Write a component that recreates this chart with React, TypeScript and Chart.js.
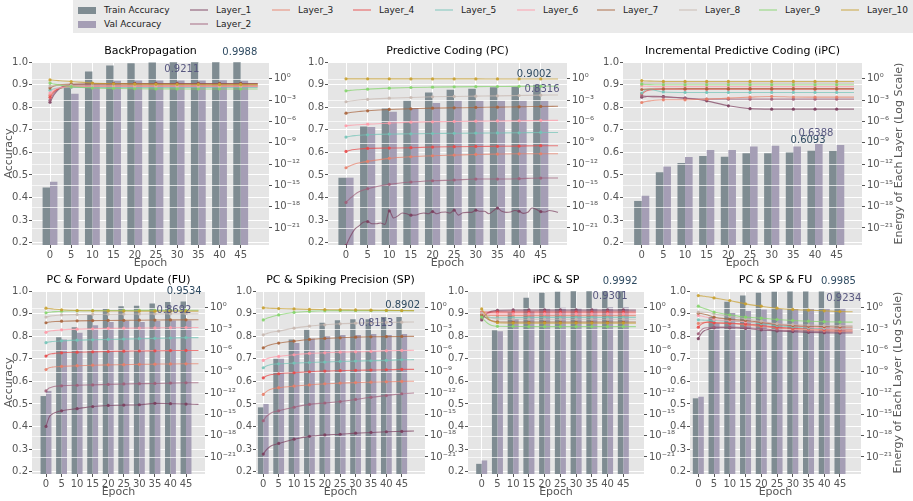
import React, { useEffect, useRef } from "react";
import { Chart, registerables } from "chart.js";

Chart.register(...registerables);

const FONT = "'DejaVu Sans', 'Liberation Sans', sans-serif";
Chart.defaults.font.family = FONT;

// ---------------- data ----------------
const BAR_EPOCHS = [0, 5, 10, 15, 20, 25, 30, 35, 40, 45];
const LINE_EPOCHS = [0, 1, 2, 3, 5, 10, 15, 20, 25, 30, 35, 40, 45, 49];
const PC_L1_EPOCHS = [
  0, 1, 2, 3, 4, 5, 6, 7, 8, 9, 10, 11, 12, 13, 14, 15, 16, 17, 18, 19, 20, 21, 22, 23, 24,
  25, 26, 27, 28, 29, 30, 31, 32, 33, 34, 35, 36, 37, 38, 39, 40, 41, 42, 43, 44, 45, 46, 47, 48, 49,
];
const ACC_TICKS = [0.2, 0.3, 0.4, 0.5, 0.6, 0.7, 0.8, 0.9, 1.0];
const LOG_TICK_EXPONENTS = [0, -3, -6, -9, -12, -15, -18, -21];
const LAYER_NAMES = ["Layer_1", "Layer_2", "Layer_3", "Layer_4", "Layer_5", "Layer_6", "Layer_7", "Layer_8", "Layer_9", "Layer_10"];
const TITLES = [
  "BackPropagation",
  "Predictive Coding (PC)",
  "Incremental Predictive Coding (iPC)",
  "PC & Forward Update (FU)",
  "PC & Spiking Precision (SP)",
  "iPC & SP",
  "PC & SP & FU",
];

// accuracy bars (epochs 0,5,...,45)
const bpTrain = [0.445, 0.892, 0.958, 0.985, 0.995, 0.998, 0.999, 0.999, 0.999, 0.999];
const bpVal = [0.47, 0.859, 0.897, 0.917, 0.918, 0.918, 0.918, 0.918, 0.919, 0.917];
const pcTrain = [0.488, 0.714, 0.794, 0.83, 0.865, 0.877, 0.882, 0.888, 0.889, 0.899];
const pcVal = [0.488, 0.712, 0.78, 0.796, 0.818, 0.828, 0.828, 0.829, 0.829, 0.829];
const ipcTrain = [0.385, 0.512, 0.553, 0.584, 0.581, 0.596, 0.596, 0.599, 0.607, 0.606];
const ipcVal = [0.408, 0.537, 0.579, 0.611, 0.611, 0.626, 0.629, 0.626, 0.638, 0.633];
const fuTrain = [0.535, 0.795, 0.84, 0.895, 0.921, 0.933, 0.935, 0.945, 0.951, 0.953];
const fuVal = [0.558, 0.785, 0.815, 0.848, 0.863, 0.867, 0.863, 0.867, 0.869, 0.869];
const spTrain = [0.485, 0.7, 0.785, 0.83, 0.86, 0.87, 0.875, 0.875, 0.885, 0.885];
const spVal = [0.5, 0.7, 0.77, 0.79, 0.8, 0.805, 0.805, 0.81, 0.805, 0.81];
const ipcspTrain = [0.235, 0.826, 0.905, 0.97, 0.992, 0.997, 0.999, 0.999, 0.999, 0.999];
const ipcspVal = [0.25, 0.822, 0.876, 0.91, 0.922, 0.926, 0.925, 0.925, 0.928, 0.928];
const allTrain = [0.525, 0.885, 0.952, 0.98, 0.992, 0.997, 0.998, 0.998, 0.998, 0.998];
const allVal = [0.532, 0.86, 0.903, 0.912, 0.918, 0.92, 0.92, 0.921, 0.922, 0.922];

// best accuracy annotations: [epoch, value]
const bpBestTrain = [44.8, 0.9988];
const bpBestVal = [31.1, 0.9211];
const pcBestTrain = [43.5, 0.9002];
const pcBestVal = [45.3, 0.8316];
const ipcBestTrain = [38.4, 0.6093];
const ipcBestVal = [40.2, 0.6388];
const fuBestTrain = [44.4, 0.9534];
const fuBestVal = [41.1, 0.8692];
const spBestTrain = [45.3, 0.8902];
const spBestVal = [36.6, 0.8113];
const ipcspBestTrain = [44.0, 0.9992];
const ipcspBestVal = [40.8, 0.9301];
const allBestTrain = [44.5, 0.9985];
const allBestVal = [46.2, 0.9234];

// layer energies, log10 values at LINE_EPOCHS (Layer_1 ... Layer_10)
const bpLayers = [
  [-3.3, -2.2, -1.5, -1.1, -0.85, -0.7, -0.66, -0.65, -0.65, -0.65, -0.65, -0.65, -0.65, -0.65],
  [-3.0, -2.0, -1.4, -1.1, -0.9, -0.8, -0.76, -0.75, -0.75, -0.75, -0.75, -0.75, -0.75, -0.75],
  [-2.3, -1.7, -1.4, -1.25, -1.15, -1.1, -1.1, -1.1, -1.1, -1.1, -1.1, -1.1, -1.1, -1.1],
  [-2.6, -1.8, -1.4, -1.2, -1.05, -0.97, -0.95, -0.95, -0.95, -0.95, -0.95, -0.95, -0.95, -0.95],
  [-1.6, -1.4, -1.3, -1.25, -1.2, -1.2, -1.2, -1.2, -1.2, -1.2, -1.2, -1.2, -1.2, -1.2],
  [-2.0, -1.5, -1.3, -1.2, -1.1, -1.05, -1.05, -1.05, -1.05, -1.05, -1.05, -1.05, -1.05, -1.05],
  [-1.3, -1.0, -0.85, -0.8, -0.75, -0.72, -0.7, -0.7, -0.7, -0.7, -0.7, -0.7, -0.7, -0.7],
  [-1.0, -0.95, -0.92, -0.9, -0.9, -0.9, -0.9, -0.9, -0.9, -0.9, -0.9, -0.9, -0.9, -0.9],
  [-0.6, -0.75, -0.85, -0.95, -1.1, -1.3, -1.35, -1.4, -1.42, -1.42, -1.43, -1.43, -1.43, -1.43],
  [-0.15, -0.2, -0.25, -0.3, -0.38, -0.6, -0.7, -0.75, -0.78, -0.8, -0.8, -0.82, -0.82, -0.82],
];
// PC Layer_1 is noisy: one value per epoch (PC_L1_EPOCHS)
const pcLayer1 = [
  -23.5, -22.2, -21.2, -20.7, -20.2, -20.1, -20.4, -20.4, -20.3, -20.5, -18.6, -19.6, -19.3, -18.9, -19.0,
  -19.2, -19.2, -19.0, -18.9, -19.0, -18.7, -19.0, -18.8, -18.75, -18.9, -18.5, -19.2, -18.85, -18.8, -18.8,
  -18.5, -18.65, -18.65, -19.0, -18.6, -18.2, -18.65, -18.8, -18.75, -18.55, -18.65, -18.95, -18.8, -18.2, -18.4,
  -18.7, -18.75, -18.55, -18.65, -18.8,
];
const pcLayers = [
  pcLayer1,
  [-17.4, -16.8, -16.3, -15.9, -15.47, -14.86, -14.53, -14.35, -14.25, -14.11, -14.11, -14.06, -13.97, -13.97],
  [-12.52, -12.25, -12.0, -11.85, -11.63, -11.2, -10.97, -10.83, -10.74, -10.65, -10.6, -10.56, -10.55, -10.55],
  [-10.22, -10.05, -9.95, -9.88, -9.8, -9.75, -9.7, -9.61, -9.56, -9.52, -9.5, -9.47, -9.42, -9.42],
  [-8.2, -8.08, -8.0, -7.95, -7.88, -7.78, -7.74, -7.7, -7.67, -7.64, -7.62, -7.6, -7.55, -7.55],
  [-6.61, -6.55, -6.5, -6.46, -6.38, -6.24, -6.1, -6.05, -6.0, -5.96, -5.93, -5.9, -5.86, -5.85],
  [-4.83, -4.74, -4.67, -4.61, -4.5, -4.31, -4.22, -4.13, -4.08, -4.03, -3.99, -3.94, -3.89, -3.87],
  [-3.23, -3.13, -3.05, -2.99, -2.9, -2.72, -2.63, -2.53, -2.48, -2.44, -2.4, -2.35, -2.3, -2.28],
  [-1.69, -1.62, -1.57, -1.53, -1.45, -1.31, -1.22, -1.17, -1.13, -1.1, -1.08, -1.06, -1.05, -1.04],
  [0.0, 0.0, 0.0, 0.0, 0.0, 0.0, -0.01, -0.01, -0.01, -0.01, -0.02, -0.02, -0.02, -0.02],
];
const ipcLayers = [
  [-2.58, -2.5, -2.45, -2.45, -2.48, -2.72, -3.1, -3.8, -4.2, -4.27, -4.27, -4.27, -4.27, -4.27],
  [-2.4, -2.45, -2.5, -2.54, -2.58, -2.72, -2.86, -2.86, -2.86, -2.86, -2.86, -2.86, -2.86, -2.86],
  [-3.33, -3.2, -3.1, -3.02, -2.95, -2.95, -2.86, -2.72, -2.58, -2.48, -2.56, -2.58, -2.58, -2.58],
  [-2.1, -1.7, -1.55, -1.5, -1.45, -1.45, -1.45, -1.45, -1.45, -1.45, -1.45, -1.45, -1.45, -1.45],
  [-2.0, -1.55, -1.5, -1.6, -1.85, -1.92, -1.92, -1.92, -1.92, -1.92, -1.92, -1.92, -1.92, -1.92],
  [-1.0, -1.05, -1.08, -1.1, -1.1, -1.1, -1.1, -1.1, -1.1, -1.1, -1.1, -1.1, -1.1, -1.1],
  [-1.5, -1.45, -1.42, -1.4, -1.4, -1.38, -1.38, -1.38, -1.38, -1.38, -1.38, -1.38, -1.38, -1.38],
  [-0.6, -0.6, -0.6, -0.6, -0.6, -0.6, -0.6, -0.6, -0.6, -0.6, -0.6, -0.6, -0.6, -0.6],
  [-0.75, -0.8, -0.82, -0.83, -0.84, -0.84, -0.84, -0.84, -0.84, -0.84, -0.84, -0.84, -0.84, -0.84],
  [-0.25, -0.3, -0.33, -0.35, -0.37, -0.37, -0.37, -0.37, -0.37, -0.37, -0.37, -0.37, -0.37, -0.37],
];
const fuLayers = [
  [-16.7, -15.4, -14.95, -14.75, -14.5, -14.2, -13.9, -13.75, -13.7, -13.65, -13.45, -13.5, -13.55, -13.6],
  [-11.7, -11.3, -11.15, -11.05, -10.98, -10.9, -10.85, -10.78, -10.72, -10.68, -10.65, -10.6, -10.55, -10.55],
  [-8.7, -8.45, -8.35, -8.3, -8.25, -8.15, -8.08, -8.03, -8.0, -7.96, -7.93, -7.9, -7.88, -7.87],
  [-6.8, -6.55, -6.45, -6.4, -6.33, -6.25, -6.2, -6.15, -6.1, -6.08, -6.05, -6.02, -6.0, -6.0],
  [-4.9, -4.8, -4.75, -4.7, -4.65, -4.55, -4.5, -4.45, -4.4, -4.35, -4.3, -4.25, -4.2, -4.2],
  [-3.45, -3.3, -3.22, -3.17, -3.1, -3.0, -2.95, -2.9, -2.87, -2.85, -2.83, -2.8, -2.78, -2.77],
  [-2.1, -2.0, -1.95, -1.92, -1.88, -1.83, -1.8, -1.78, -1.76, -1.74, -1.72, -1.7, -1.69, -1.68],
  [-1.3, -1.2, -1.12, -1.07, -1.0, -0.95, -0.92, -0.9, -0.88, -0.86, -0.85, -0.84, -0.83, -0.83],
  [-0.7, -0.62, -0.57, -0.53, -0.48, -0.42, -0.4, -0.38, -0.37, -0.36, -0.36, -0.35, -0.35, -0.35],
  [-0.05, -0.1, -0.15, -0.2, -0.28, -0.38, -0.42, -0.44, -0.45, -0.46, -0.47, -0.47, -0.47, -0.47],
];
const spLayers = [
  [-20.6, -20.0, -19.6, -19.35, -19.1, -18.5, -18.1, -17.9, -17.8, -17.65, -17.55, -17.45, -17.4, -17.35],
  [-15.9, -15.3, -14.95, -14.7, -14.5, -14.0, -13.6, -13.4, -13.2, -12.9, -12.6, -12.35, -12.1, -12.0],
  [-12.19, -11.8, -11.55, -11.4, -11.25, -11.02, -10.85, -10.69, -10.6, -10.53, -10.47, -10.41, -10.36, -10.34],
  [-9.85, -9.6, -9.45, -9.38, -9.28, -9.14, -9.0, -8.9, -8.85, -8.8, -8.76, -8.72, -8.67, -8.66],
  [-8.44, -8.2, -8.05, -7.95, -7.88, -7.78, -7.7, -7.64, -7.55, -7.5, -7.45, -7.4, -7.31, -7.3],
  [-7.4, -7.2, -7.05, -6.95, -6.84, -6.61, -6.42, -6.33, -6.24, -6.19, -6.14, -6.05, -6.0, -5.98],
  [-5.63, -5.4, -5.25, -5.12, -4.97, -4.69, -4.45, -4.31, -4.22, -4.13, -4.08, -4.05, -4.03, -4.02],
  [-3.8, -3.65, -3.5, -3.4, -3.28, -2.86, -2.58, -2.39, -2.25, -2.16, -2.1, -2.05, -2.02, -2.0],
  [-1.7, -1.5, -1.35, -1.22, -1.0, -0.65, -0.5, -0.42, -0.4, -0.4, -0.4, -0.4, -0.4, -0.4],
  [0.0, -0.02, -0.05, -0.07, -0.1, -0.15, -0.22, -0.25, -0.28, -0.3, -0.33, -0.35, -0.38, -0.4],
];
const ipcspLayers = [
  [-1.7, -1.1, -0.7, -0.5, -0.35, -0.3, -0.3, -0.3, -0.3, -0.3, -0.3, -0.3, -0.3, -0.3],
  [-1.5, -1.0, -0.75, -0.6, -0.5, -0.45, -0.45, -0.45, -0.45, -0.45, -0.45, -0.45, -0.45, -0.45],
  [-0.9, -1.0, -1.05, -1.08, -1.1, -1.1, -1.1, -1.1, -1.1, -1.1, -1.1, -1.1, -1.1, -1.1],
  [-0.6, -0.6, -0.6, -0.6, -0.6, -0.6, -0.6, -0.6, -0.6, -0.6, -0.6, -0.6, -0.6, -0.6],
  [-1.2, -1.3, -1.35, -1.38, -1.4, -1.38, -1.36, -1.35, -1.35, -1.35, -1.35, -1.35, -1.35, -1.35],
  [-0.8, -0.82, -0.84, -0.85, -0.85, -0.85, -0.85, -0.85, -0.85, -0.85, -0.85, -0.85, -0.85, -0.85],
  [-1.0, -1.3, -1.6, -1.8, -1.95, -2.0, -2.0, -2.0, -2.0, -2.0, -2.0, -2.0, -2.0, -2.0],
  [-0.7, -0.95, -1.2, -1.4, -1.55, -1.6, -1.6, -1.6, -1.6, -1.6, -1.6, -1.6, -1.6, -1.6],
  [-1.3, -1.8, -2.2, -2.45, -2.6, -2.62, -2.65, -2.65, -2.65, -2.65, -2.65, -2.65, -2.65, -2.65],
  [-0.15, -0.8, -1.4, -1.8, -2.1, -2.15, -2.15, -2.15, -2.15, -2.15, -2.15, -2.15, -2.15, -2.15],
];
const allLayers = [
  [-4.35, -3.6, -3.2, -3.05, -2.81, -2.81, -2.9, -3.1, -3.25, -3.35, -3.45, -3.5, -3.55, -3.55],
  [-3.65, -3.1, -2.85, -2.8, -2.72, -2.72, -2.77, -2.95, -3.1, -3.2, -3.28, -3.35, -3.4, -3.4],
  [-2.2, -2.1, -2.05, -2.05, -2.1, -2.2, -2.4, -2.6, -2.85, -3.0, -3.1, -3.2, -3.3, -3.3],
  [-2.72, -2.3, -2.1, -2.0, -2.11, -2.16, -2.25, -2.48, -2.72, -2.86, -2.95, -3.05, -3.1, -3.1],
  [-1.69, -1.72, -1.74, -1.76, -1.78, -1.88, -1.95, -2.25, -2.5, -2.7, -2.85, -2.92, -2.95, -2.95],
  [-1.08, -1.15, -1.25, -1.35, -1.64, -1.78, -1.95, -2.01, -2.3, -2.5, -2.7, -2.8, -2.85, -2.85],
  [-0.75, -0.8, -0.9, -1.0, -1.31, -1.6, -1.78, -2.06, -2.34, -2.5, -2.6, -2.65, -2.7, -2.7],
  [-0.6, -0.6, -0.62, -0.65, -0.85, -1.22, -1.55, -1.88, -2.25, -2.35, -2.42, -2.48, -2.5, -2.5],
  [0.23, 0.05, -0.1, -0.25, -0.6, -0.98, -1.31, -1.45, -1.64, -1.78, -1.88, -1.95, -2.0, -2.02],
  [1.73, 1.68, 1.62, 1.56, 1.4, 1.03, 0.56, 0.23, -0.05, -0.23, -0.33, -0.42, -0.52, -0.56],
];

// ---------------- styles ----------------
const TRAIN_COLOR = "#7f8c92";
const VAL_COLOR = "#a59eb5";
const LAYER_COLORS = [
  "#7b3f5e", "#a0607a", "#e8806a", "#e84a4a", "#74c4b8",
  "#ff9aa8", "#a8643c", "#c8b8b0", "#84d46c", "#c8a030",
];
const TRAIN_TEXT = "#2f4b62";
const VAL_TEXT = "#585880";
const BG = "#E5E5E5";
const TICK = "#555555";

function rgba(hex: string, a: number) {
  const n = parseInt(hex.slice(1), 16);
  return `rgba(${(n >> 16) & 255},${(n >> 8) & 255},${n & 255},${a})`;
}

const SUP: Record<string, string> = {
  "0": "\u2070", "1": "\u00b9", "2": "\u00b2", "3": "\u00b3", "4": "\u2074",
  "5": "\u2075", "6": "\u2076", "7": "\u2077", "8": "\u2078", "9": "\u2079", "-": "\u207b",
};
function logLabel(v: number) {
  const e = Math.round(Math.log10(v));
  return "10" + String(e).split("").map((c) => SUP[c] || c).join("");
}

const PLOTS = [
  { title: TITLES[0], train: bpTrain, val: bpVal, layers: bpLayers, bestT: bpBestTrain, bestV: bpBestVal },
  { title: TITLES[1], train: pcTrain, val: pcVal, layers: pcLayers, bestT: pcBestTrain, bestV: pcBestVal },
  { title: TITLES[2], train: ipcTrain, val: ipcVal, layers: ipcLayers, bestT: ipcBestTrain, bestV: ipcBestVal },
  { title: TITLES[3], train: fuTrain, val: fuVal, layers: fuLayers, bestT: fuBestTrain, bestV: fuBestVal },
  { title: TITLES[4], train: spTrain, val: spVal, layers: spLayers, bestT: spBestTrain, bestV: spBestVal },
  { title: TITLES[5], train: ipcspTrain, val: ipcspVal, layers: ipcspLayers, bestT: ipcspBestTrain, bestV: ipcspBestVal },
  { title: TITLES[6], train: allTrain, val: allVal, layers: allLayers, bestT: allBestTrain, bestV: allBestVal },
];

// plot-area layout (page pixels) and axis ranges
const L = 32;
const T = 24;
const B = 30;
const LAYOUT = [
  { left: 32, top: 62, width: 237, height: 183, xMin: -4.25, xMax: 51.68, R: 44, accLabel: true, energyLabel: false },
  { left: 328, top: 62, width: 239, height: 183, xMin: -4.16, xMax: 51.07, R: 44, accLabel: false, energyLabel: false },
  { left: 623, top: 62, width: 239, height: 183, xMin: -4.32, xMax: 50.84, R: 51, accLabel: false, energyLabel: true },
  { left: 32, top: 291, width: 173, height: 183, xMin: -4.5, xMax: 51.1, R: 44, accLabel: true, energyLabel: false },
  { left: 256, top: 291, width: 169, height: 183, xMin: -2.37, xMax: 52.56, R: 44, accLabel: false, energyLabel: false },
  { left: 468, top: 291, width: 176, height: 183, xMin: -4.35, xMax: 51.57, R: 44, accLabel: false, energyLabel: false },
  { left: 690, top: 291, width: 171, height: 183, xMin: -2.64, xMax: 51.67, R: 52, accLabel: false, energyLabel: true },
];
const ACC_MIN = 0.19;
const ACC_MAX = 1.0;
const LOG_MIN = Math.pow(10, -23.4);
const LOG_MAX = Math.pow(10, 2.37);

function markerRadius(ctx: any) {
  const r = ctx.raw;
  return r && r.x % 5 === 0 && r.x <= 45 ? 1.6 : 0;
}

function makeConfig(plot: any, lay: any): any {
  const datasets: any[] = [
    {
      type: "bar", label: "Train Accuracy",
      data: BAR_EPOCHS.map((x, i) => ({ x, y: plot.train[i] })),
      backgroundColor: TRAIN_COLOR, borderWidth: 0, yAxisID: "y", xAxisID: "x",
      order: 20, categoryPercentage: 0.7, barPercentage: 1.0,
    },
    {
      type: "bar", label: "Val Accuracy",
      data: BAR_EPOCHS.map((x, i) => ({ x, y: plot.val[i] })),
      backgroundColor: VAL_COLOR, borderWidth: 0, yAxisID: "y", xAxisID: "x",
      order: 20, categoryPercentage: 0.7, barPercentage: 1.0,
    },
  ];
  plot.layers.forEach((vals: number[], k: number) => {
    const ep = vals.length === PC_L1_EPOCHS.length ? PC_L1_EPOCHS : LINE_EPOCHS;
    datasets.push({
      type: "line", label: LAYER_NAMES[k],
      data: ep.map((x, j) => ({ x, y: Math.pow(10, vals[j]) })),
      yAxisID: "y2", xAxisID: "x",
      borderColor: rgba(LAYER_COLORS[k], 0.7), borderWidth: 1.1,
      pointRadius: markerRadius, pointHoverRadius: 0,
      pointBackgroundColor: rgba(LAYER_COLORS[k], 0.9), pointBorderWidth: 0,
      cubicInterpolationMode: "monotone", fill: false, order: 10 - k,
    });
  });

  const tickFont = { size: 10, family: FONT };
  const plugin = {
    id: "subplotDecor",
    beforeDraw(chart: any) {
      const a = chart.chartArea;
      const ctx = chart.ctx;
      ctx.save();
      ctx.fillStyle = BG;
      ctx.fillRect(a.left, a.top, a.right - a.left, a.bottom - a.top);
      ctx.restore();
    },
    beforeDatasetsDraw(chart: any) {
      chart.$rightGridDone = false;
    },
    beforeDatasetDraw(chart: any, args: any) {
      if (chart.$rightGridDone || args.meta.type !== "line") return;
      chart.$rightGridDone = true;
      const a = chart.chartArea;
      const ctx = chart.ctx;
      const y2 = chart.scales.y2;
      ctx.save();
      ctx.strokeStyle = "rgba(255,255,255,0.7)";
      ctx.lineWidth = 1;
      LOG_TICK_EXPONENTS.forEach((e) => {
        const y = Math.round(y2.getPixelForValue(Math.pow(10, e))) + 0.5;
        ctx.beginPath();
        ctx.moveTo(a.left, y);
        ctx.lineTo(a.right, y);
        ctx.stroke();
      });
      ctx.restore();
    },
    afterDraw(chart: any) {
      const a = chart.chartArea;
      const ctx = chart.ctx;
      const cx = (a.left + a.right) / 2;
      const cy = (a.top + a.bottom) / 2;
      ctx.save();
      ctx.textAlign = "center";
      ctx.textBaseline = "middle";
      ctx.fillStyle = "#000";
      ctx.font = `11px ${FONT}`;
      ctx.fillText(plot.title, cx, a.top - 11);
      ctx.fillStyle = TICK;
      ctx.fillText("Epoch", cx, a.bottom + 18.5);
      if (lay.accLabel) {
        ctx.save();
        ctx.translate(a.left - 23, cy);
        ctx.rotate(-Math.PI / 2);
        ctx.fillText("Accuracy", 0, 0);
        ctx.restore();
      }
      if (lay.energyLabel) {
        ctx.save();
        ctx.translate(a.right + 37, cy);
        ctx.rotate(-Math.PI / 2);
        ctx.fillText("Energy of Each Layer (Log Scale)", 0, 0);
        ctx.restore();
      }
      const xs = chart.scales.x;
      const ys = chart.scales.y;
      ctx.font = `10px ${FONT}`;
      ctx.fillStyle = TRAIN_TEXT;
      ctx.fillText(plot.bestT[1].toFixed(4), xs.getPixelForValue(plot.bestT[0]), ys.getPixelForValue(plot.bestT[1] + 0.045));
      ctx.fillStyle = VAL_TEXT;
      ctx.fillText(plot.bestV[1].toFixed(4), xs.getPixelForValue(plot.bestV[0]), ys.getPixelForValue(plot.bestV[1] + 0.045));
      ctx.restore();
    },
  };

  return {
    type: "bar",
    data: { datasets },
    plugins: [plugin],
    options: {
      responsive: false,
      animation: false,
      events: [],
      layout: { padding: { top: T, left: 0, right: 0, bottom: 0 } },
      plugins: { legend: { display: false }, title: { display: false }, tooltip: { enabled: false } },
      scales: {
        x: {
          type: "linear", position: "bottom", min: lay.xMin, max: lay.xMax, bounds: "data", offset: false,
          afterBuildTicks: (s: any) => { s.ticks = BAR_EPOCHS.map((v) => ({ value: v })); },
          afterFit: (s: any) => { s.height = B; },
          ticks: { color: TICK, font: tickFont, padding: 1, maxRotation: 0, autoSkip: false, callback: (v: any) => String(v) },
          grid: { offset: false, color: "#ffffff", lineWidth: 1, drawTicks: true, tickLength: 3, tickColor: TICK, tickWidth: 1 },
          border: { display: false },
        },
        y: {
          type: "linear", position: "left", min: ACC_MIN, max: ACC_MAX, bounds: "data", beginAtZero: false,
          afterBuildTicks: (s: any) => { s.ticks = ACC_TICKS.map((v) => ({ value: v })); },
          afterFit: (s: any) => { s.width = L; },
          ticks: { color: TICK, font: tickFont, padding: 1, callback: (v: any) => Number(v).toFixed(1) },
          grid: { color: "#ffffff", lineWidth: 1, drawTicks: true, tickLength: 3, tickColor: TICK, tickWidth: 1 },
          border: { display: false },
        },
        y2: {
          type: "logarithmic", position: "right", min: LOG_MIN, max: LOG_MAX, bounds: "data",
          afterBuildTicks: (s: any) => { s.ticks = LOG_TICK_EXPONENTS.map((e) => ({ value: Math.pow(10, e) })); },
          afterFit: (s: any) => { s.width = lay.R; },
          ticks: { color: TICK, font: tickFont, padding: 2, callback: (v: any) => logLabel(Number(v)) },
          grid: { drawOnChartArea: false, drawTicks: true, tickLength: 3, tickColor: TICK, tickWidth: 1 },
          border: { display: false },
        },
      },
    },
  };
}

// legend layout
const LEGEND_COLS = [78, 190, 272, 353, 435, 517, 597, 679, 759, 841];
const LEGEND_ROWS = [10, 24];
const LEGEND_ITEMS = [
  { label: "Train Accuracy", bar: true, color: TRAIN_COLOR, col: 0, row: 0 },
  { label: "Val Accuracy", bar: true, color: VAL_COLOR, col: 0, row: 1 },
  ...LAYER_NAMES.map((name, k) => ({
    label: name, bar: false, color: rgba(LAYER_COLORS[k], 0.45),
    col: k < 2 ? 1 : k, row: k === 1 ? 1 : 0,
  })),
];

function Legend() {
  return (
    <div style={{ position: "absolute", left: 73, top: 0, width: 840, height: 33, background: "#eaeaea" }}>
      {LEGEND_ITEMS.map((it, i) => {
        const x = LEGEND_COLS[it.col] - 73;
        const y = LEGEND_ROWS[it.row];
        return (
          <React.Fragment key={i}>
            <div
              style={{
                position: "absolute", left: x, width: 18,
                top: it.bar ? y - 3.5 : y - 0.75, height: it.bar ? 7 : 1.5,
                background: it.color,
              }}
            />
            <div
              style={{
                position: "absolute", left: x + 26, top: y - 6, height: 12, lineHeight: "12px",
                fontSize: 9, fontFamily: FONT, color: "#222", whiteSpace: "nowrap",
              }}
            >
              {it.label}
            </div>
          </React.Fragment>
        );
      })}
    </div>
  );
}

export default function App() {
  const refs = useRef<(HTMLCanvasElement | null)[]>([]);
  useEffect(() => {
    const charts = PLOTS.map((p, i) => {
      const c = refs.current[i] as HTMLCanvasElement;
      return new Chart(c, makeConfig(p, LAYOUT[i]));
    });
    return () => charts.forEach((ch) => ch.destroy());
  }, []);
  return (
    <div style={{ position: "absolute", left: 0, top: 0, width: 913, height: 501, background: "#fff", overflow: "hidden" }}>
      <Legend />
      {LAYOUT.map((lay, i) => {
        const w = L + lay.width + lay.R;
        const h = T + lay.height + B;
        return (
          <canvas
            key={i}
            ref={(el) => { refs.current[i] = el; }}
            width={w}
            height={h}
            style={{ position: "absolute", left: lay.left - L, top: lay.top - T, width: w, height: h }}
          />
        );
      })}
    </div>
  );
}
